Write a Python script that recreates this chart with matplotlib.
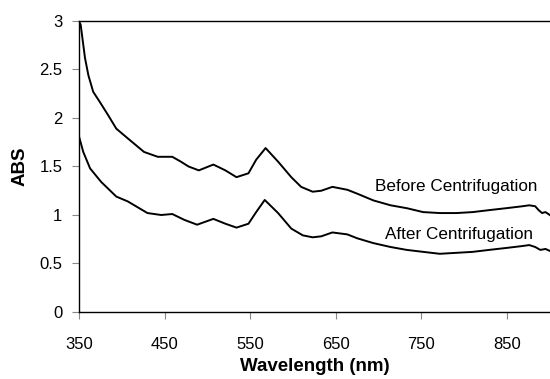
import matplotlib
import matplotlib.pyplot as plt

plt.switch_backend('agg')
plt.rcParams['font.family'] = ['Liberation Sans', 'DejaVu Sans']

# wavelength (nm) and absorbance
wl_before = [350, 352, 357, 361, 366.6, 374, 384, 393.6, 407, 426, 442, 459, 469, 478,
             490, 507, 521, 534, 548, 557, 568, 582.6, 598, 609.5, 623, 633, 646,
             663.5, 675, 694, 714, 733, 752, 771.5, 791, 810, 829, 849, 868, 876,
             883, 887, 891, 895, 900]
abs_before = [3.0, 2.96, 2.62, 2.44, 2.27, 2.17, 2.03, 1.89, 1.79, 1.65, 1.60, 1.60, 1.55, 1.50,
              1.46, 1.52, 1.46, 1.39, 1.43, 1.57, 1.69, 1.55, 1.39, 1.29, 1.24, 1.25, 1.29,
              1.26, 1.22, 1.15, 1.10, 1.07, 1.03, 1.02, 1.02, 1.03, 1.05, 1.07, 1.09, 1.10,
              1.09, 1.05, 1.02, 1.03, 1.0]

wl_after = [350, 355, 363, 376, 393.6, 407, 430, 446, 459, 473, 488, 507, 521, 534,
            548, 557, 567, 582.6, 598, 611.5, 623, 633, 646, 663.5, 675, 694, 714,
            733, 752, 771.5, 791, 810, 829, 849, 868, 876, 883, 889, 895, 900]
abs_after = [1.81, 1.65, 1.48, 1.34, 1.19, 1.14, 1.02, 1.0, 1.01, 0.95, 0.90, 0.96, 0.91, 0.87,
             0.91, 1.03, 1.155, 1.02, 0.86, 0.79, 0.77, 0.78, 0.82, 0.80, 0.76, 0.71, 0.67,
             0.64, 0.62, 0.60, 0.61, 0.62, 0.64, 0.66, 0.68, 0.69, 0.67, 0.64, 0.65, 0.63]

x_ticks = [350, 450, 550, 650, 750, 850]
y_ticks = [0, 0.5, 1, 1.5, 2, 2.5, 3]
y_ticklabels = ['0', '0.5', '1', '1.5', '2', '2.5', '3']

fig = plt.figure(figsize=(5.5, 3.79), dpi=100)
ax = fig.add_axes([0.1436, 0.1768, 0.856, 0.7678])

ax.plot(wl_before, abs_before, color='black', lw=1.4)
ax.plot(wl_after, abs_after, color='black', lw=1.4)

ax.text(886, 1.29, 'Before Centrifugation', ha='right', va='center', fontsize=12.3)
ax.text(880, 0.80, 'After Centrifugation', ha='right', va='center', fontsize=12.3)

ax.set_xlim(350, 900)
ax.set_ylim(0, 3)
ax.set_xticks(x_ticks)
ax.set_yticks(y_ticks)
ax.set_yticklabels(y_ticklabels)
ax.tick_params(axis='both', labelsize=12, length=5, width=0.8, color='#888888')
ax.tick_params(axis='x', pad=13)
ax.tick_params(axis='y', pad=7)
ax.spines['right'].set_visible(False)
for s in ['left', 'bottom', 'top']:
    ax.spines[s].set_linewidth(1.0)

ax.set_xlabel('Wavelength (nm)', fontsize=13.5, fontweight='bold', labelpad=4)
ax.set_ylabel('ABS', fontsize=13.5, fontweight='bold', labelpad=8)

plt.savefig('out.png', dpi=100)
